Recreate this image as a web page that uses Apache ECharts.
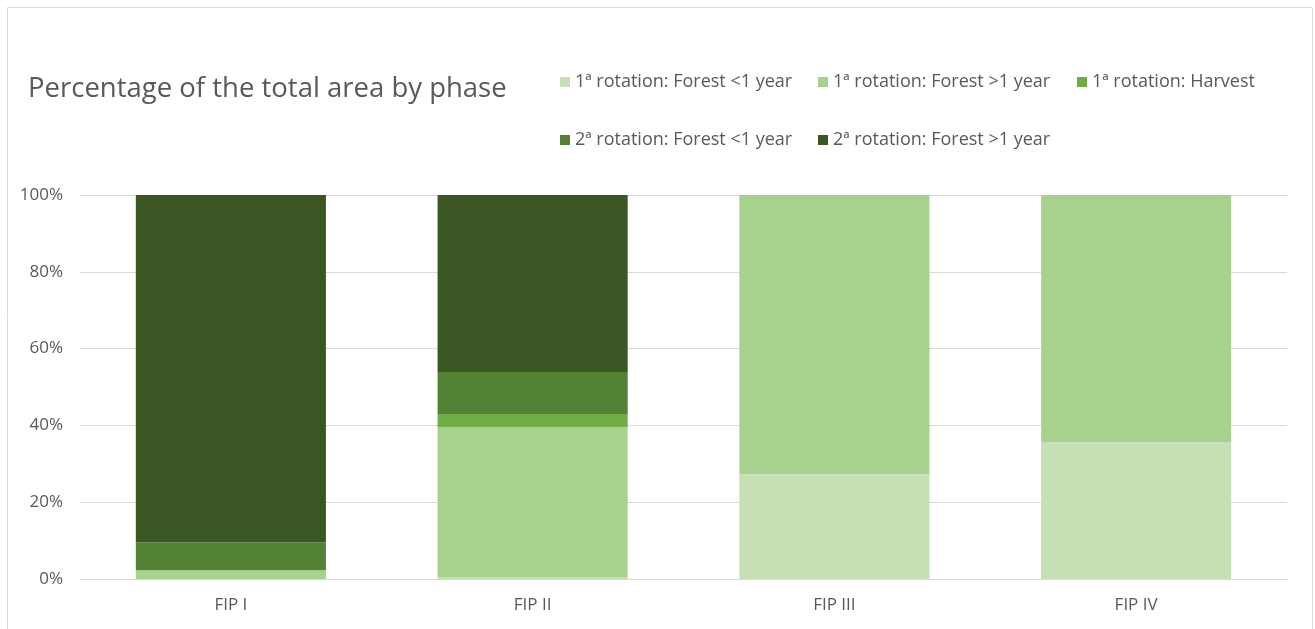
<!DOCTYPE html>
<html>
<head>
<meta charset="utf-8">
<script src="https://cdn.jsdelivr.net/npm/echarts@6/dist/echarts.min.js"></script>
<style>
html,body{margin:0;padding:0;background:#fff;}
#chart{width:1315px;height:629px;}
</style>
</head>
<body>
<div id="chart"></div>
<script>
const categories = ['FIP I', 'FIP II', 'FIP III', 'FIP IV'];
const seriesNames = [
  '1ª rotation: Forest <1 year',
  '1ª rotation: Forest >1 year',
  '1ª rotation: Harvest',
  '2ª rotation: Forest <1 year',
  '2ª rotation: Forest >1 year'
];
const rot1Young = [0, 0.5, 27.3, 35.6];
const rot1Old = [2.3, 39.1, 72.7, 64.4];
const rot1Harvest = [0, 3.4, 0, 0];
const rot2Young = [7.3, 10.9, 0, 0];
const rot2Old = [90.4, 46.1, 0, 0];
const yTicks = [0, 20, 40, 60, 80, 100];

const colors = ['#C5E0B4', '#A9D18E', '#70AD47', '#548235', '#3A5623'];
const values = [rot1Young, rot1Old, rot1Harvest, rot2Young, rot2Old];
const FONT = '"Open Sans", "Noto Sans", sans-serif';
const textColor = '#595959';

const legendPos = [
  {left: 555, top: 68},
  {left: 813, top: 68},
  {left: 1072, top: 68},
  {left: 555, top: 126},
  {left: 813, top: 126}
];

const chart = echarts.init(document.getElementById('chart'));
chart.setOption({
  animation: false,
  backgroundColor: '#fff',
  color: colors,
  graphic: [{
    type: 'rect',
    shape: {x: 7.5, y: 7.5, width: 1305, height: 640},
    style: {fill: 'none', stroke: '#D9D9D9', lineWidth: 1},
    silent: true
  }],
  title: {
    text: 'Percentage of the total area by phase',
    left: 23, top: 70,
    textStyle: {fontFamily: FONT, fontSize: 27.5, fontWeight: 'normal', color: textColor}
  },
  legend: seriesNames.map((n, i) => ({
    data: [n],
    left: legendPos[i].left, top: legendPos[i].top,
    itemWidth: 10, itemHeight: 10, itemGap: 5,
    icon: 'rect',
    textStyle: {fontFamily: FONT, fontSize: 18, color: textColor}
  })),
  grid: {left: 80, right: 28, top: 195, bottom: 50, containLabel: false},
  xAxis: {
    type: 'category',
    data: categories,
    axisLine: {lineStyle: {color: '#D9D9D9', width: 1}},
    axisTick: {show: false},
    axisLabel: {fontFamily: FONT, fontSize: 17, color: textColor, margin: 18}
  },
  yAxis: {
    type: 'value',
    min: yTicks[0], max: yTicks[yTicks.length - 1], interval: 20,
    axisLine: {show: false},
    axisTick: {show: false},
    splitLine: {lineStyle: {color: '#D9D9D9', width: 1}},
    axisLabel: {fontFamily: FONT, fontSize: 17, color: textColor, margin: 17, formatter: '{value}%'}
  },
  series: seriesNames.map((n, i) => ({
    name: n,
    type: 'bar',
    stack: 'total',
    data: values[i],
    barCategoryGap: '37%',
    itemStyle: {color: colors[i]}
  }))
});
</script>
</body>
</html>
